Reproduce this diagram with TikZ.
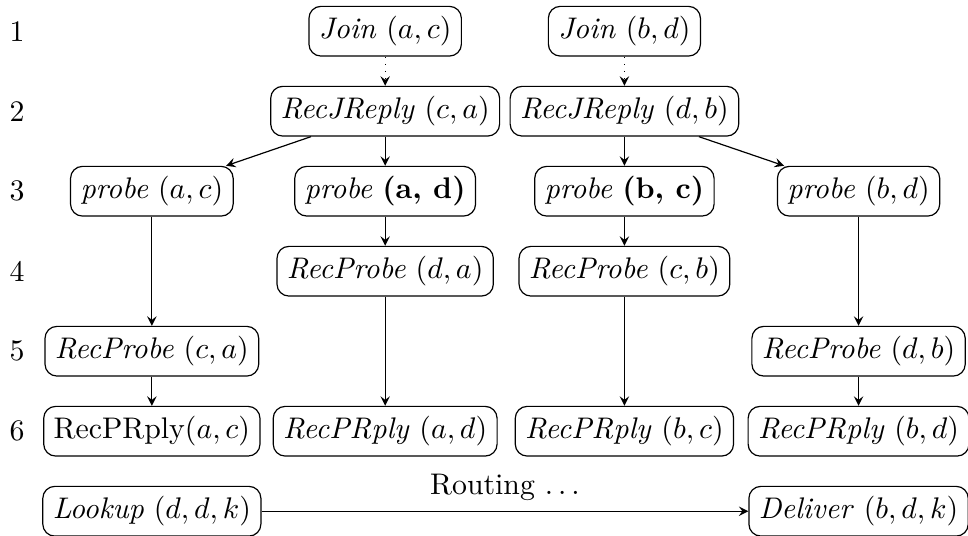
\documentclass[tikz,border=0pt]{standalone}
\begin{document}
\begin{tikzpicture}[box/.style={draw, rounded corners}, >=stealth, y=0.943cm]
    \useasboundingbox (-0.2,0.39) rectangle (11.21,-6.3);

    % row numbers
    \foreach \r in {1,...,6}
        \node (row\r) at (0,1-\r) {\r};

    % join
    \node[box] (joinac) at (4.34,0) {\textit{Join} $(a, c)$};
    \node[box] (joinbd) at (7.16,0) {\textit{Join} $(b, d)$};

    % join replies
    \node[box] (jreplyca) at (4.34,-1) {\textit{RecJReply} $(c, a)$};
    \node[box] (jreplydb) at (7.16,-1) {\textit{RecJReply} $(d, b)$};

    % probes
    \node[box] (probeac) at (1.59,-2) {\textit{probe} $(a, c)$};
    \node[box] (probead) at (4.34,-2) {\textit{probe} \textbf{(a, d)}};
    \node[box] (probebc) at (7.16,-2) {\textit{probe} \textbf{(b, c)}};
    \node[box] (probebd) at (9.92,-2) {\textit{probe} $(b, d)$};

    % received probes
    \node[box] (recprobeda) at (4.34,-3) {\textit{RecProbe} $(d, a)$};
    \node[box] (recprobecb) at (7.16,-3) {\textit{RecProbe} $(c, b)$};
    \node[box] (recprobeca) at (1.59,-4) {\textit{RecProbe} $(c, a)$};
    \node[box] (recprobedb) at (9.92,-4) {\textit{RecProbe} $(d, b)$};

    % probe replies
    \node[box] (prplyac) at (1.59,-5) {RecPRply$(a, c)$};
    \node[box] (prplyad) at (4.34,-5) {\textit{RecPRply} $(a, d)$};
    \node[box] (prplybc) at (7.16,-5) {\textit{RecPRply} $(b, c)$};
    \node[box] (prplybd) at (9.92,-5) {\textit{RecPRply} $(b, d)$};

    % routing
    \node[box] (lookup) at (1.59,-6) {\textit{Lookup} $(d, d, k)$};
    \node[box] (deliver) at (9.92,-6) {\textit{Deliver} $(b, d, k)$};

    \draw[->, dotted] (joinac) -- (jreplyca);
    \draw[->, dotted] (joinbd) -- (jreplydb);
    \draw[->] (jreplyca) -- (probeac);
    \draw[->] (jreplyca) -- (probead);
    \draw[->] (jreplydb) -- (probebc);
    \draw[->] (jreplydb) -- (probebd);
    \draw[->] (probeac) -- (recprobeca);
    \draw[->] (probead) -- (recprobeda);
    \draw[->] (probebc) -- (recprobecb);
    \draw[->] (probebd) -- (recprobedb);
    \draw[->] (recprobeca) -- (prplyac);
    \draw[->] (recprobeda) -- (prplyad);
    \draw[->] (recprobecb) -- (prplybc);
    \draw[->] (recprobedb) -- (prplybd);
    \draw[->] (lookup) -- node[above] {Routing $\ldots$} (deliver);
\end{tikzpicture}
\end{document}
